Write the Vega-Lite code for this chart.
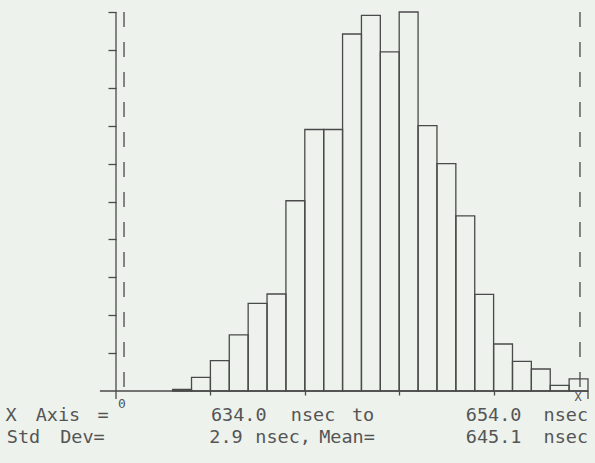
{
  "$schema": "https://vega.github.io/schema/vega-lite/v6.json",
  "width": 472,
  "height": 379,
  "autosize": "none",
  "padding": {"left": 116, "top": 12, "right": 7, "bottom": 72},
  "background": "#edf2ec",
  "view": {"stroke": null},
  "config": {
    "text": {"font": "DejaVu Sans Mono", "fontSize": 18.5, "color": "#555555", "baseline": "alphabetic", "align": "center"},
    "rule": {"color": "#4a4a4a", "strokeWidth": 1.3}
  },
  "datasets": {
    "bins": [
      {"start": 636.4, "end": 637.2, "count": 0.04},
      {"start": 637.2, "end": 638.0, "count": 0.36},
      {"start": 638.0, "end": 638.8, "count": 0.8},
      {"start": 638.8, "end": 639.6, "count": 1.48},
      {"start": 639.6, "end": 640.4, "count": 2.31},
      {"start": 640.4, "end": 641.2, "count": 2.56},
      {"start": 641.2, "end": 642.0, "count": 5.02},
      {"start": 642.0, "end": 642.8, "count": 6.9},
      {"start": 642.8, "end": 643.6, "count": 6.9},
      {"start": 643.6, "end": 644.4, "count": 9.42},
      {"start": 644.4, "end": 645.2, "count": 9.91},
      {"start": 645.2, "end": 646.0, "count": 8.95},
      {"start": 646.0, "end": 646.8, "count": 10.0},
      {"start": 646.8, "end": 647.6, "count": 7.0},
      {"start": 647.6, "end": 648.4, "count": 6.0},
      {"start": 648.4, "end": 649.2, "count": 4.62},
      {"start": 649.2, "end": 650.0, "count": 2.55},
      {"start": 650.0, "end": 650.8, "count": 1.24},
      {"start": 650.8, "end": 651.6, "count": 0.78},
      {"start": 651.6, "end": 652.4, "count": 0.58},
      {"start": 652.4, "end": 653.2, "count": 0.15},
      {"start": 653.2, "end": 654.0, "count": 0.32}
    ],
    "one": [{}]
  },
  "data": {"name": "one"},
  "encoding": {
    "x": {
      "type": "quantitative",
      "scale": {"domain": [634, 654], "nice": false, "zero": false},
      "axis": {"values": [638, 642, 646, 650], "tickSize": 4, "tickColor": "#4a4a4a", "tickWidth": 1.3, "labels": false, "domain": false, "grid": false, "title": null}
    },
    "y": {
      "type": "quantitative",
      "scale": {"domain": [0, 10], "nice": false},
      "axis": {"values": [1, 2, 3, 4, 5, 6, 7, 8, 9, 10], "tickSize": 8, "tickColor": "#4a4a4a", "tickWidth": 1.3, "labels": false, "domain": false, "grid": false, "title": null}
    }
  },
  "layer": [
    {
      "data": {"name": "bins"},
      "mark": {"type": "bar", "fill": null, "fillOpacity": 0, "stroke": "#4a4a4a", "strokeWidth": 1.3},
      "encoding": {
        "x": {"field": "start", "type": "quantitative"},
        "x2": {"field": "end"},
        "y": {"field": "count", "type": "quantitative"},
        "y2": {"datum": 0}
      }
    },
    {
      "mark": {"type": "rule", "strokeDash": [15, 15]},
      "encoding": {"x": {"datum": 634.34}, "y": {"datum": 10}, "y2": {"datum": 0}}
    },
    {
      "mark": {"type": "rule", "strokeDash": [15, 15]},
      "encoding": {"x": {"datum": 653.66}, "y": {"datum": 10}, "y2": {"datum": 0}}
    },
    {
      "mark": "rule",
      "encoding": {"x": {"datum": 634}, "y": {"datum": 10}, "y2": {"datum": -0.21}}
    },
    {
      "mark": "rule",
      "encoding": {"x": {"datum": 633.32}, "x2": {"datum": 654}, "y": {"datum": 0}}
    },
    {
      "mark": "rule",
      "encoding": {"x": {"datum": 654}, "y": {"datum": 0}, "y2": {"datum": -0.21}}
    },
    {
      "mark": {"type": "text", "fontSize": 13},
      "encoding": {"x": {"datum": 634.25}, "y": {"datum": -0.45}, "text": {"value": "0"}}
    },
    {
      "mark": {"type": "text", "fontSize": 12},
      "encoding": {"x": {"datum": 653.58}, "y": {"datum": -0.26}, "text": {"value": "X"}}
    },
    {"mark": "text", "encoding": {"x": {"datum": 629.55}, "y": {"datum": -0.795}, "text": {"value": "X"}}},
    {"mark": "text", "encoding": {"x": {"datum": 631.54}, "y": {"datum": -0.795}, "text": {"value": "Axis"}}},
    {"mark": "text", "encoding": {"x": {"datum": 633.45}, "y": {"datum": -0.795}, "text": {"value": "="}}},
    {"mark": "text", "encoding": {"x": {"datum": 639.2}, "y": {"datum": -0.795}, "text": {"value": "634.0"}}},
    {"mark": "text", "encoding": {"x": {"datum": 642.35}, "y": {"datum": -0.795}, "text": {"value": "nsec"}}},
    {"mark": "text", "encoding": {"x": {"datum": 644.47}, "y": {"datum": -0.795}, "text": {"value": "to"}}},
    {"mark": "text", "encoding": {"x": {"datum": 650.0}, "y": {"datum": -0.795}, "text": {"value": "654.0"}}},
    {"mark": "text", "encoding": {"x": {"datum": 653.06}, "y": {"datum": -0.795}, "text": {"value": "nsec"}}},
    {"mark": "text", "encoding": {"x": {"datum": 630.08}, "y": {"datum": -1.36}, "text": {"value": "Std"}}},
    {"mark": "text", "encoding": {"x": {"datum": 632.58}, "y": {"datum": -1.36}, "text": {"value": "Dev="}}},
    {"mark": "text", "encoding": {"x": {"datum": 638.66}, "y": {"datum": -1.36}, "text": {"value": "2.9"}}},
    {"mark": "text", "encoding": {"x": {"datum": 641.08}, "y": {"datum": -1.36}, "text": {"value": "nsec,"}}},
    {"mark": "text", "encoding": {"x": {"datum": 643.79}, "y": {"datum": -1.36}, "text": {"value": "Mean="}}},
    {"mark": "text", "encoding": {"x": {"datum": 650.0}, "y": {"datum": -1.36}, "text": {"value": "645.1"}}},
    {"mark": "text", "encoding": {"x": {"datum": 653.06}, "y": {"datum": -1.36}, "text": {"value": "nsec"}}}
  ]
}
